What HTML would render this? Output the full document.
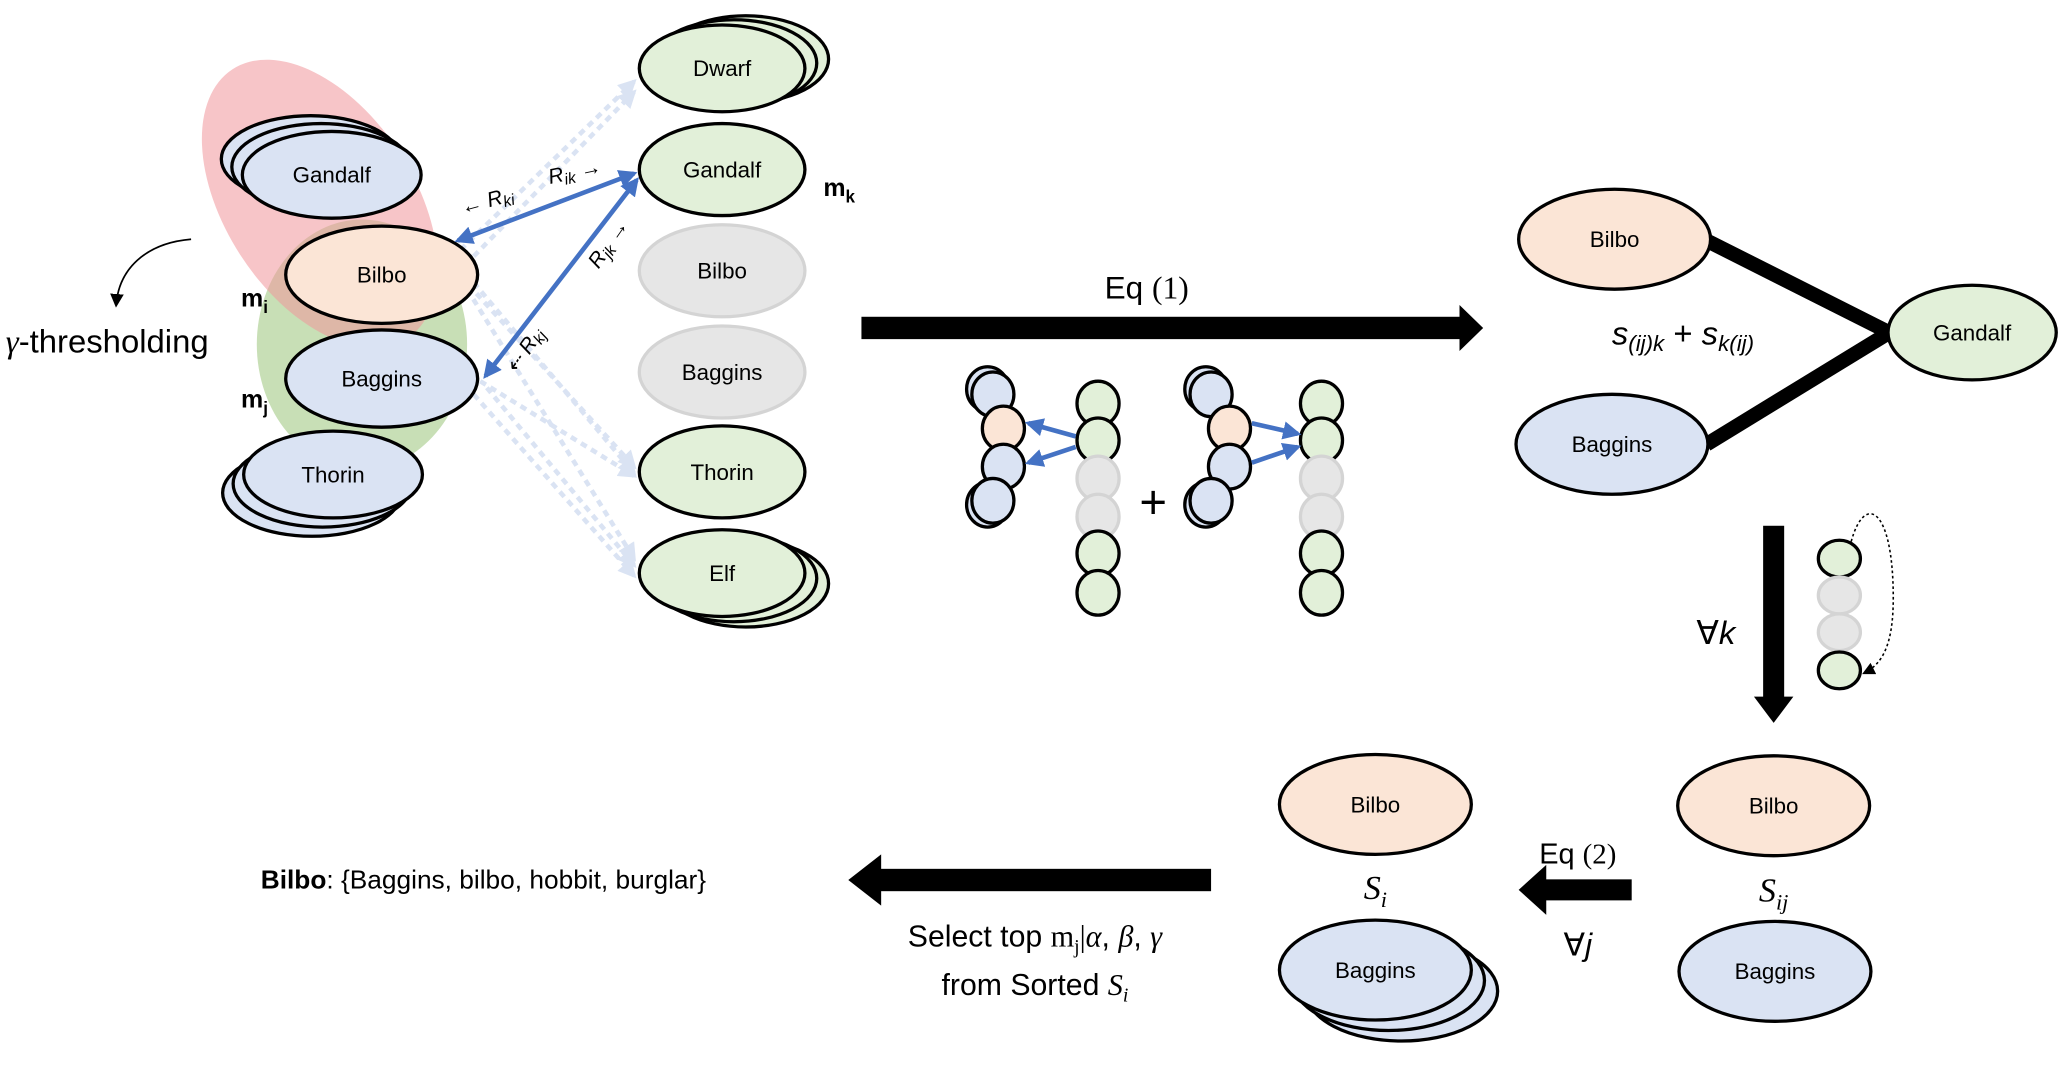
<!DOCTYPE html>
<html><head><meta charset="utf-8"><style>
html,body{margin:0;padding:0;background:#fff;}
svg{display:block;}
text{font-family:"Liberation Sans",sans-serif;}
.m{font-family:"Liberation Serif",serif;font-style:italic;}
</style></head><body>
<svg width="2062" height="1066" viewBox="0 0 1568 811" xmlns="http://www.w3.org/2000/svg">
<defs>
<marker id="bh" viewBox="0 0 10 10" refX="8" refY="5" markerWidth="4" markerHeight="4" orient="auto-start-reverse"><path d="M0,0L10,5L0,10z" fill="#4472c4"/></marker>
<marker id="lh" viewBox="0 0 10 10" refX="8" refY="5" markerWidth="4" markerHeight="4" orient="auto-start-reverse"><path d="M0,0L10,5L0,10z" fill="#dae3f3"/></marker>
<marker id="kh" viewBox="0 0 10 10" refX="8" refY="5" markerWidth="8" markerHeight="8" orient="auto"><path d="M0,0L10,5L0,10z" fill="#000"/></marker>
</defs>
<!-- background blobs -->
<ellipse cx="275" cy="262" rx="80" ry="95" fill="#c8dfb6"/>
<ellipse cx="243" cy="155" rx="72" ry="122" transform="rotate(-33 243 155)" fill="rgb(240,150,155)" fill-opacity="0.55"/>
<!-- dotted lines -->
<g stroke="#dae3f3" stroke-width="3.5" stroke-dasharray="5,4" fill="none" marker-end="url(#lh)">
<line x1="350" y1="190" x2="482" y2="62"/>
<line x1="360" y1="195" x2="482" y2="70"/>
<line x1="350" y1="210" x2="482" y2="355"/>
<line x1="360" y1="215" x2="482" y2="360"/>
<line x1="365" y1="290" x2="482" y2="362"/>
<line x1="370" y1="295" x2="482" y2="430"/>
<line x1="360" y1="300" x2="482" y2="438"/>
<line x1="355" y1="220" x2="482" y2="425"/>
</g>
<!-- left nodes -->
<g stroke="#000" stroke-width="2.5">
<ellipse cx="236" cy="121" rx="68" ry="33" fill="#dae3f3"/>
<ellipse cx="244" cy="127" rx="68" ry="33" fill="#dae3f3"/>
<ellipse cx="252" cy="133" rx="68" ry="33" fill="#dae3f3"/>
<ellipse cx="290" cy="209" rx="73" ry="37" fill="#fbe5d6"/>
<ellipse cx="290" cy="288" rx="73" ry="37" fill="#dae3f3"/>
<ellipse cx="237" cy="375" rx="68" ry="33" fill="#dae3f3"/>
<ellipse cx="245" cy="368" rx="68" ry="33" fill="#dae3f3"/>
<ellipse cx="253" cy="361" rx="68" ry="33" fill="#dae3f3"/>
</g>
<g font-size="17" text-anchor="middle">
<text x="252" y="139">Gandalf</text>
<text x="290" y="215">Bilbo</text>
<text x="290" y="294">Baggins</text>
<text x="253" y="367">Thorin</text>
</g>
<text x="183" y="233" font-size="19" font-weight="bold">m<tspan font-size="13" dy="5">i</tspan></text>
<text x="183" y="310" font-size="19" font-weight="bold">m<tspan font-size="13" dy="5">j</tspan></text>
<text x="4" y="268" font-size="25"><tspan class="m">γ</tspan>-thresholding</text>
<path d="M145,182 C110,185 90,205 88,232" fill="none" stroke="#000" stroke-width="1.3" marker-end="url(#kh)"/>
<!-- right column -->
<g stroke="#000" stroke-width="2.5">
<ellipse cx="567" cy="45" rx="63" ry="33" fill="#e2f0d9"/>
<ellipse cx="558" cy="48" rx="63" ry="33" fill="#e2f0d9"/>
<ellipse cx="549" cy="52" rx="63" ry="33" fill="#e2f0d9"/>
<ellipse cx="549" cy="129" rx="63" ry="35" fill="#e2f0d9"/>
<ellipse cx="549" cy="206" rx="63" ry="35" fill="#e6e6e6" stroke="#d4d4d4"/>
<ellipse cx="549" cy="283" rx="63" ry="35" fill="#e6e6e6" stroke="#d4d4d4"/>
<ellipse cx="549" cy="359" rx="63" ry="35" fill="#e2f0d9"/>
<ellipse cx="567" cy="444" rx="63" ry="33" fill="#e2f0d9"/>
<ellipse cx="558" cy="440" rx="63" ry="33" fill="#e2f0d9"/>
<ellipse cx="549" cy="436" rx="63" ry="33" fill="#e2f0d9"/>
</g>
<g font-size="17" text-anchor="middle">
<text x="549" y="58">Dwarf</text>
<text x="549" y="135">Gandalf</text>
<text x="549" y="212">Bilbo</text>
<text x="549" y="289">Baggins</text>
<text x="549" y="365">Thorin</text>
<text x="549" y="442">Elf</text>
</g>
<text x="626" y="149" font-size="19" font-weight="bold">m<tspan font-size="13" dy="5">k</tspan></text>
<!-- blue arrows -->
<g stroke="#4472c4" stroke-width="3.5" marker-start="url(#bh)" marker-end="url(#bh)">
<line x1="348" y1="183" x2="482" y2="132"/>
<line x1="369" y1="286" x2="484" y2="137"/>
</g>
<g class="m" font-size="16">
<text x="352" y="163" transform="rotate(-15 352 163)">← R<tspan font-size="12" dy="3">ki</tspan></text>
<text x="418" y="140" transform="rotate(-12 418 140)">R<tspan font-size="12" dy="3">ik</tspan><tspan dy="-3"> →</tspan></text>
<text x="455" y="205" transform="rotate(-55 455 205)">R<tspan font-size="12" dy="3">jk</tspan><tspan dy="-3"> →</tspan></text>
<text x="392" y="285" transform="rotate(-55 392 285)">⇠ R<tspan font-size="12" dy="3">kj</tspan></text>
</g>
<!-- Eq(1) arrow -->
<rect x="655" y="241" width="458" height="17" fill="#000"/>
<path d="M1110,232 L1128,249.5 L1110,267z" fill="#000"/>
<text x="872" y="227" font-size="24" text-anchor="middle">Eq <tspan font-family="Liberation Serif">(1)</tspan></text>
<!-- small diagrams -->
<g stroke="#000" stroke-width="2.5">
<ellipse cx="751" cy="296" rx="16" ry="17" fill="#dae3f3"/>
<ellipse cx="755" cy="300" rx="16" ry="17" fill="#dae3f3"/>
<ellipse cx="763" cy="326" rx="16" ry="17" fill="#fbe5d6"/>
<ellipse cx="763" cy="355" rx="16" ry="17" fill="#dae3f3"/>
<ellipse cx="751" cy="384" rx="16" ry="17" fill="#dae3f3"/>
<ellipse cx="755" cy="381" rx="16" ry="17" fill="#dae3f3"/>
<ellipse cx="835" cy="307" rx="16" ry="17" fill="#e2f0d9"/>
<ellipse cx="835" cy="335" rx="16" ry="17" fill="#e2f0d9"/>
<ellipse cx="835" cy="364" rx="16" ry="17" fill="#e6e6e6" stroke="#d4d4d4"/>
<ellipse cx="835" cy="393" rx="16" ry="17" fill="#e6e6e6" stroke="#d4d4d4"/>
<ellipse cx="835" cy="421" rx="16" ry="17" fill="#e2f0d9"/>
<ellipse cx="835" cy="451" rx="16" ry="17" fill="#e2f0d9"/>
<ellipse cx="917" cy="296" rx="16" ry="17" fill="#dae3f3"/>
<ellipse cx="921" cy="300" rx="16" ry="17" fill="#dae3f3"/>
<ellipse cx="935" cy="326" rx="16" ry="17" fill="#fbe5d6"/>
<ellipse cx="935" cy="355" rx="16" ry="17" fill="#dae3f3"/>
<ellipse cx="917" cy="384" rx="16" ry="17" fill="#dae3f3"/>
<ellipse cx="921" cy="381" rx="16" ry="17" fill="#dae3f3"/>
<ellipse cx="1005" cy="307" rx="16" ry="17" fill="#e2f0d9"/>
<ellipse cx="1005" cy="335" rx="16" ry="17" fill="#e2f0d9"/>
<ellipse cx="1005" cy="364" rx="16" ry="17" fill="#e6e6e6" stroke="#d4d4d4"/>
<ellipse cx="1005" cy="393" rx="16" ry="17" fill="#e6e6e6" stroke="#d4d4d4"/>
<ellipse cx="1005" cy="421" rx="16" ry="17" fill="#e2f0d9"/>
<ellipse cx="1005" cy="451" rx="16" ry="17" fill="#e2f0d9"/>
</g>
<g stroke="#4472c4" stroke-width="3.5" marker-end="url(#bh)">
<line x1="818" y1="332" x2="782" y2="322"/>
<line x1="818" y1="340" x2="782" y2="352"/>
<line x1="952" y1="322" x2="987" y2="330"/>
<line x1="952" y1="352" x2="987" y2="340"/>
</g>
<text x="877" y="394" font-size="36" text-anchor="middle">+</text>
<!-- right graph -->
<g stroke="#000" stroke-width="11">
<line x1="1298" y1="183" x2="1437" y2="253"/>
<line x1="1298" y1="338" x2="1437" y2="253"/>
</g>
<g stroke="#000" stroke-width="2.5">
<ellipse cx="1228" cy="182" rx="73" ry="38" fill="#fbe5d6"/>
<ellipse cx="1226" cy="338" rx="73" ry="38" fill="#dae3f3"/>
<ellipse cx="1500" cy="253" rx="64" ry="36" fill="#e2f0d9"/>
</g>
<g font-size="17" text-anchor="middle">
<text x="1228" y="188">Bilbo</text>
<text x="1226" y="344">Baggins</text>
<text x="1500" y="259">Gandalf</text>
</g>
<text x="1280" y="262" font-size="25" text-anchor="middle" font-family="Liberation Serif"><tspan font-style="italic">s</tspan><tspan font-size="17" dy="5" font-style="italic">(ij)k</tspan><tspan dy="-5"> + </tspan><tspan font-style="italic">s</tspan><tspan font-size="17" dy="5" font-style="italic">k(ij)</tspan></text>
<!-- down arrow -->
<rect x="1341" y="400" width="16" height="132" fill="#000"/>
<path d="M1334,530 L1364,530 L1349,550z" fill="#000"/>
<text x="1305" y="490" font-size="25" text-anchor="middle" font-family="Liberation Serif">∀<tspan font-style="italic">k</tspan></text>
<g stroke="#000" stroke-width="2.5">
<ellipse cx="1399" cy="425" rx="16" ry="14" fill="#e2f0d9"/>
<ellipse cx="1399" cy="453" rx="16" ry="14" fill="#e6e6e6" stroke="#d4d4d4"/>
<ellipse cx="1399" cy="481" rx="16" ry="14" fill="#e6e6e6" stroke="#d4d4d4"/>
<ellipse cx="1399" cy="510" rx="16" ry="14" fill="#e2f0d9"/>
</g>
<path d="M1408,412 C1418,375 1440,385 1440,455 C1440,490 1432,505 1418,512" fill="none" stroke="#000" stroke-width="1.2" stroke-dasharray="2,2" marker-end="url(#kh)"/>
<!-- bottom right -->
<g stroke="#000" stroke-width="2.5">
<ellipse cx="1349" cy="613" rx="73" ry="38" fill="#fbe5d6"/>
<ellipse cx="1350" cy="739" rx="73" ry="38" fill="#dae3f3"/>
<ellipse cx="1046" cy="612" rx="73" ry="38" fill="#fbe5d6"/>
<ellipse cx="1066" cy="754" rx="73" ry="38" fill="#dae3f3"/>
<ellipse cx="1056" cy="746" rx="73" ry="38" fill="#dae3f3"/>
<ellipse cx="1046" cy="738" rx="73" ry="38" fill="#dae3f3"/>
</g>
<g font-size="17" text-anchor="middle">
<text x="1349" y="619">Bilbo</text>
<text x="1350" y="745">Baggins</text>
<text x="1046" y="618">Bilbo</text>
<text x="1046" y="744">Baggins</text>
</g>
<text x="1349" y="686" font-size="26" class="m" text-anchor="middle">S<tspan font-size="17" dy="6">ij</tspan></text>
<text x="1046" y="684" font-size="26" class="m" text-anchor="middle">S<tspan font-size="17" dy="6">i</tspan></text>
<rect x="1175" y="669" width="66" height="16" fill="#000"/>
<path d="M1176,658 L1155,677 L1176,696z" fill="#000"/>
<text x="1200" y="657" font-size="22" text-anchor="middle">Eq <tspan font-family="Liberation Serif">(2)</tspan></text>
<text x="1200" y="727" font-size="24" text-anchor="middle" font-family="Liberation Serif">∀<tspan font-style="italic">j</tspan></text>
<rect x="668" y="661" width="253" height="17" fill="#000"/>
<path d="M670,650 L645,669.5 L670,689z" fill="#000"/>
<text x="198" y="676" font-size="20"><tspan font-weight="bold">Bilbo</tspan>: {Baggins, bilbo, hobbit, burglar}</text>
<text x="787" y="720" font-size="23" text-anchor="middle">Select top <tspan font-family="Liberation Serif">m</tspan><tspan font-family="Liberation Serif" font-size="15" dy="5">j</tspan><tspan dy="-5" font-family="Liberation Serif">|</tspan><tspan class="m">α</tspan>, <tspan class="m">β</tspan>, <tspan class="m">γ</tspan></text>
<text x="787" y="757" font-size="23" text-anchor="middle">from Sorted <tspan class="m">S</tspan><tspan class="m" font-size="15" dy="5">i</tspan></text>
</svg>
</body></html>
